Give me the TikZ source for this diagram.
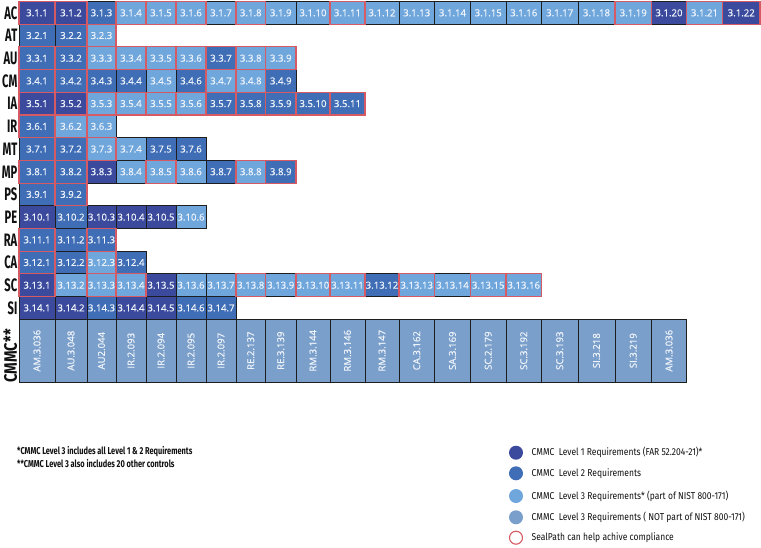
\documentclass[tikz,border=0pt]{standalone}
\usepackage{fontspec}
\setmainfont{Open Sans}
\newfontfamily\cellfont[FakeBold=0.6]{Open Sans}
\newfontfamily\lblfont[FakeStretch=0.62]{Fira Sans}
\newfontfamily\cmmcfont[FakeStretch=0.82]{Fira Sans}
\newfontfamily\notefont[FakeStretch=0.74]{Fira Sans}
\newfontfamily\legfont[FakeStretch=0.85]{Fira Sans}
\pgfdeclarelayer{redlayer}
\pgfsetlayers{main,redlayer}
\definecolor{c1}{HTML}{3B4A9C}
\definecolor{c2}{HTML}{3F6DB6}
\definecolor{c3}{HTML}{6FA7DD}
\definecolor{c4}{HTML}{7A9FCA}
\definecolor{redb}{HTML}{D65A63}
\definecolor{kline}{HTML}{1E1E1E}
\definecolor{celltext}{HTML}{EEF3FA}
\definecolor{labtext}{HTML}{111111}
\def\colx{{19,55,87,116,146,176,206,236,265.5,296,330,365,399,434.5,470.5,506,541.5,578,615,651.5,686.5,722.5,760}}
\tikzset{
  cell/.style={inner sep=0pt, outer sep=0pt, draw=kline, line width=1pt, text=celltext,
    font=\cellfont\fontsize{9.6}{10}\selectfont, anchor=north west},
  cmmccell/.style={inner sep=0pt, outer sep=0pt, draw=kline, line width=1pt, text=celltext,
    fill=c4, font=\cellfont\fontsize{9.6}{10}\selectfont, rotate=90, anchor=center},
  redframe/.style={draw=redb, line width=1.1pt},
  rowlabel/.style={font=\lblfont\bfseries\fontsize{18}{18}\selectfont, text=labtext, anchor=base east, inner sep=0pt},
  notetext/.style={font=\notefont\bfseries\fontsize{10}{10}\selectfont, text=labtext, anchor=base west, inner sep=0pt},
  legtext/.style={font=\legfont\fontsize{10}{10}\selectfont, text=labtext, anchor=west, inner sep=0pt},
  legdot/.style={circle, minimum size=14pt, inner sep=0pt},
}
\newcommand\cellrow[2]{%
  \foreach \f/\b [count=\c] in {#2}{%
    \pgfmathsetmacro\xa{\colx[\c-1]}%
    \pgfmathsetmacro\xb{\colx[\c]}%
    \pgfmathsetmacro\yt{1.5+(#1-1)*22.7}%
    \pgfmathsetmacro\w{\xb-\xa}%
    \node[cell, fill=c\f, minimum width=\w pt, minimum height=22.7pt] (c#1-\c) at (\xa,\yt) {3.#1.\c};
    \ifnum\b=1
      \begin{pgfonlayer}{redlayer}
        \draw[redframe] (c#1-\c.north west) rectangle (c#1-\c.south east);
      \end{pgfonlayer}
    \fi
  }}
\begin{document}
\begin{tikzpicture}[x=1pt,y=-1pt]
\useasboundingbox[fill=white] (0,0) rectangle (761,547);
% row labels
\foreach \lab [count=\r] in {AC,AT,AU,CM,IA,IR,MT,MP,PS,PE,RA,CA,SC,SI}{%
  \pgfmathsetmacro\yc{1.5+(\r-0.5)*22.7+6.3}%
  \node[rowlabel] (lab\r) at (17.5,\yc) {\lab};
}
% cells
\cellrow{1}{1/1,1/1,2/0,3/1,3/1,3/1,3/0,3/1,3/0,3/0,3/1,3/0,3/0,3/0,3/0,3/0,3/0,3/0,3/1,1/0,3/1,1/1}
\cellrow{2}{2/0,2/0,3/1}
\cellrow{3}{2/1,2/1,3/1,3/1,3/1,3/1,2/1,3/1,3/1}
\cellrow{4}{2/1,2/1,2/0,2/0,3/0,2/0,3/1,3/1,2/0}
\cellrow{5}{1/1,1/1,3/1,3/1,3/1,3/1,2/1,2/1,2/1,2/1,2/1}
\cellrow{6}{2/1,3/1,3/0}
\cellrow{7}{2/0,2/1,3/1,3/0,2/0,2/0}
\cellrow{8}{2/1,2/1,1/0,3/0,3/1,3/0,2/0,3/1,2/1}
\cellrow{9}{2/0,2/1}
\cellrow{10}{1/0,2/0,1/0,1/0,1/0,3/0}
\cellrow{11}{2/1,2/0,2/1}
\cellrow{12}{2/1,2/0,3/1,2/0}
\cellrow{13}{1/1,3/0,3/1,3/1,1/0,3/0,3/0,3/1,3/0,3/1,3/1,2/0,3/1,3/0,3/1,3/1}
\cellrow{14}{1/0,1/0,2/0,1/0,1/0,2/0,2/0}
% CMMC row
\node[font=\cmmcfont\bfseries\fontsize{18}{18}\selectfont, text=labtext, inner sep=0pt, rotate=90, anchor=south] (cmmclab) at (17.5,356) {CMMC**};
\foreach \t [count=\c] in {AM.3.036,AU.3.048,AU2.044,IR.2.093,IR.2.094,IR.2.095,IR.2.097,RE.2.137,RE.3.139,RM.3.144,RM.3.146,RM.3.147,CA.3.162,SA.3.169,SC.2.179,SC.3.192,SC.3.193,SI.3.218,SI.3.219,AM.3.036}{%
  \pgfmathsetmacro\xa{\colx[\c-1]}%
  \pgfmathsetmacro\xb{\colx[\c]}%
  \pgfmathsetmacro\xm{(\xa+\xb)/2}%
  \pgfmathsetmacro\w{\xb-\xa}%
  \node[cmmccell, minimum width=62.6pt, minimum height=\w pt] (m\c) at (\xm,350.7) {\t};
}
% notes
\node[notetext] (note1) at (17,454) {*CMMC Level 3 includes all Level 1 \& 2 Requirements};
\node[notetext] (note2) at (17,467.5) {**CMMC Level 3 also includes 20 other controls};
% legend
\node[legdot, fill=c1] (d1) at (516,452.7) {};
\node[legdot, fill=c2] (d2) at (516,473.3) {};
\node[legdot, fill=c3] (d3) at (516,496) {};
\node[legdot, fill=c4] (d4) at (516,517.3) {};
\node[legdot, fill=white, draw=redb, line width=1.1pt, minimum size=13pt] (d5) at (516,537.7) {};
\node[legtext] (t1) at (531.5,452.7) {CMMC\ \ Level 1 Requirements (FAR 52.204-21)*};
\node[legtext] (t2) at (531.5,473.3) {CMMC\ \ Level 2 Requirements};
\node[legtext] (t3) at (531.5,496) {CMMC\ \ Level 3 Requirements* (part of NIST 800-171)};
\node[legtext] (t4) at (531.5,517.3) {CMMC\ \ Level 3 Requirements ( NOT part of NIST 800-171)};
\node[legtext] (t5) at (531.5,537.7) {SealPath can help achive compliance};
\end{tikzpicture}
\end{document}
